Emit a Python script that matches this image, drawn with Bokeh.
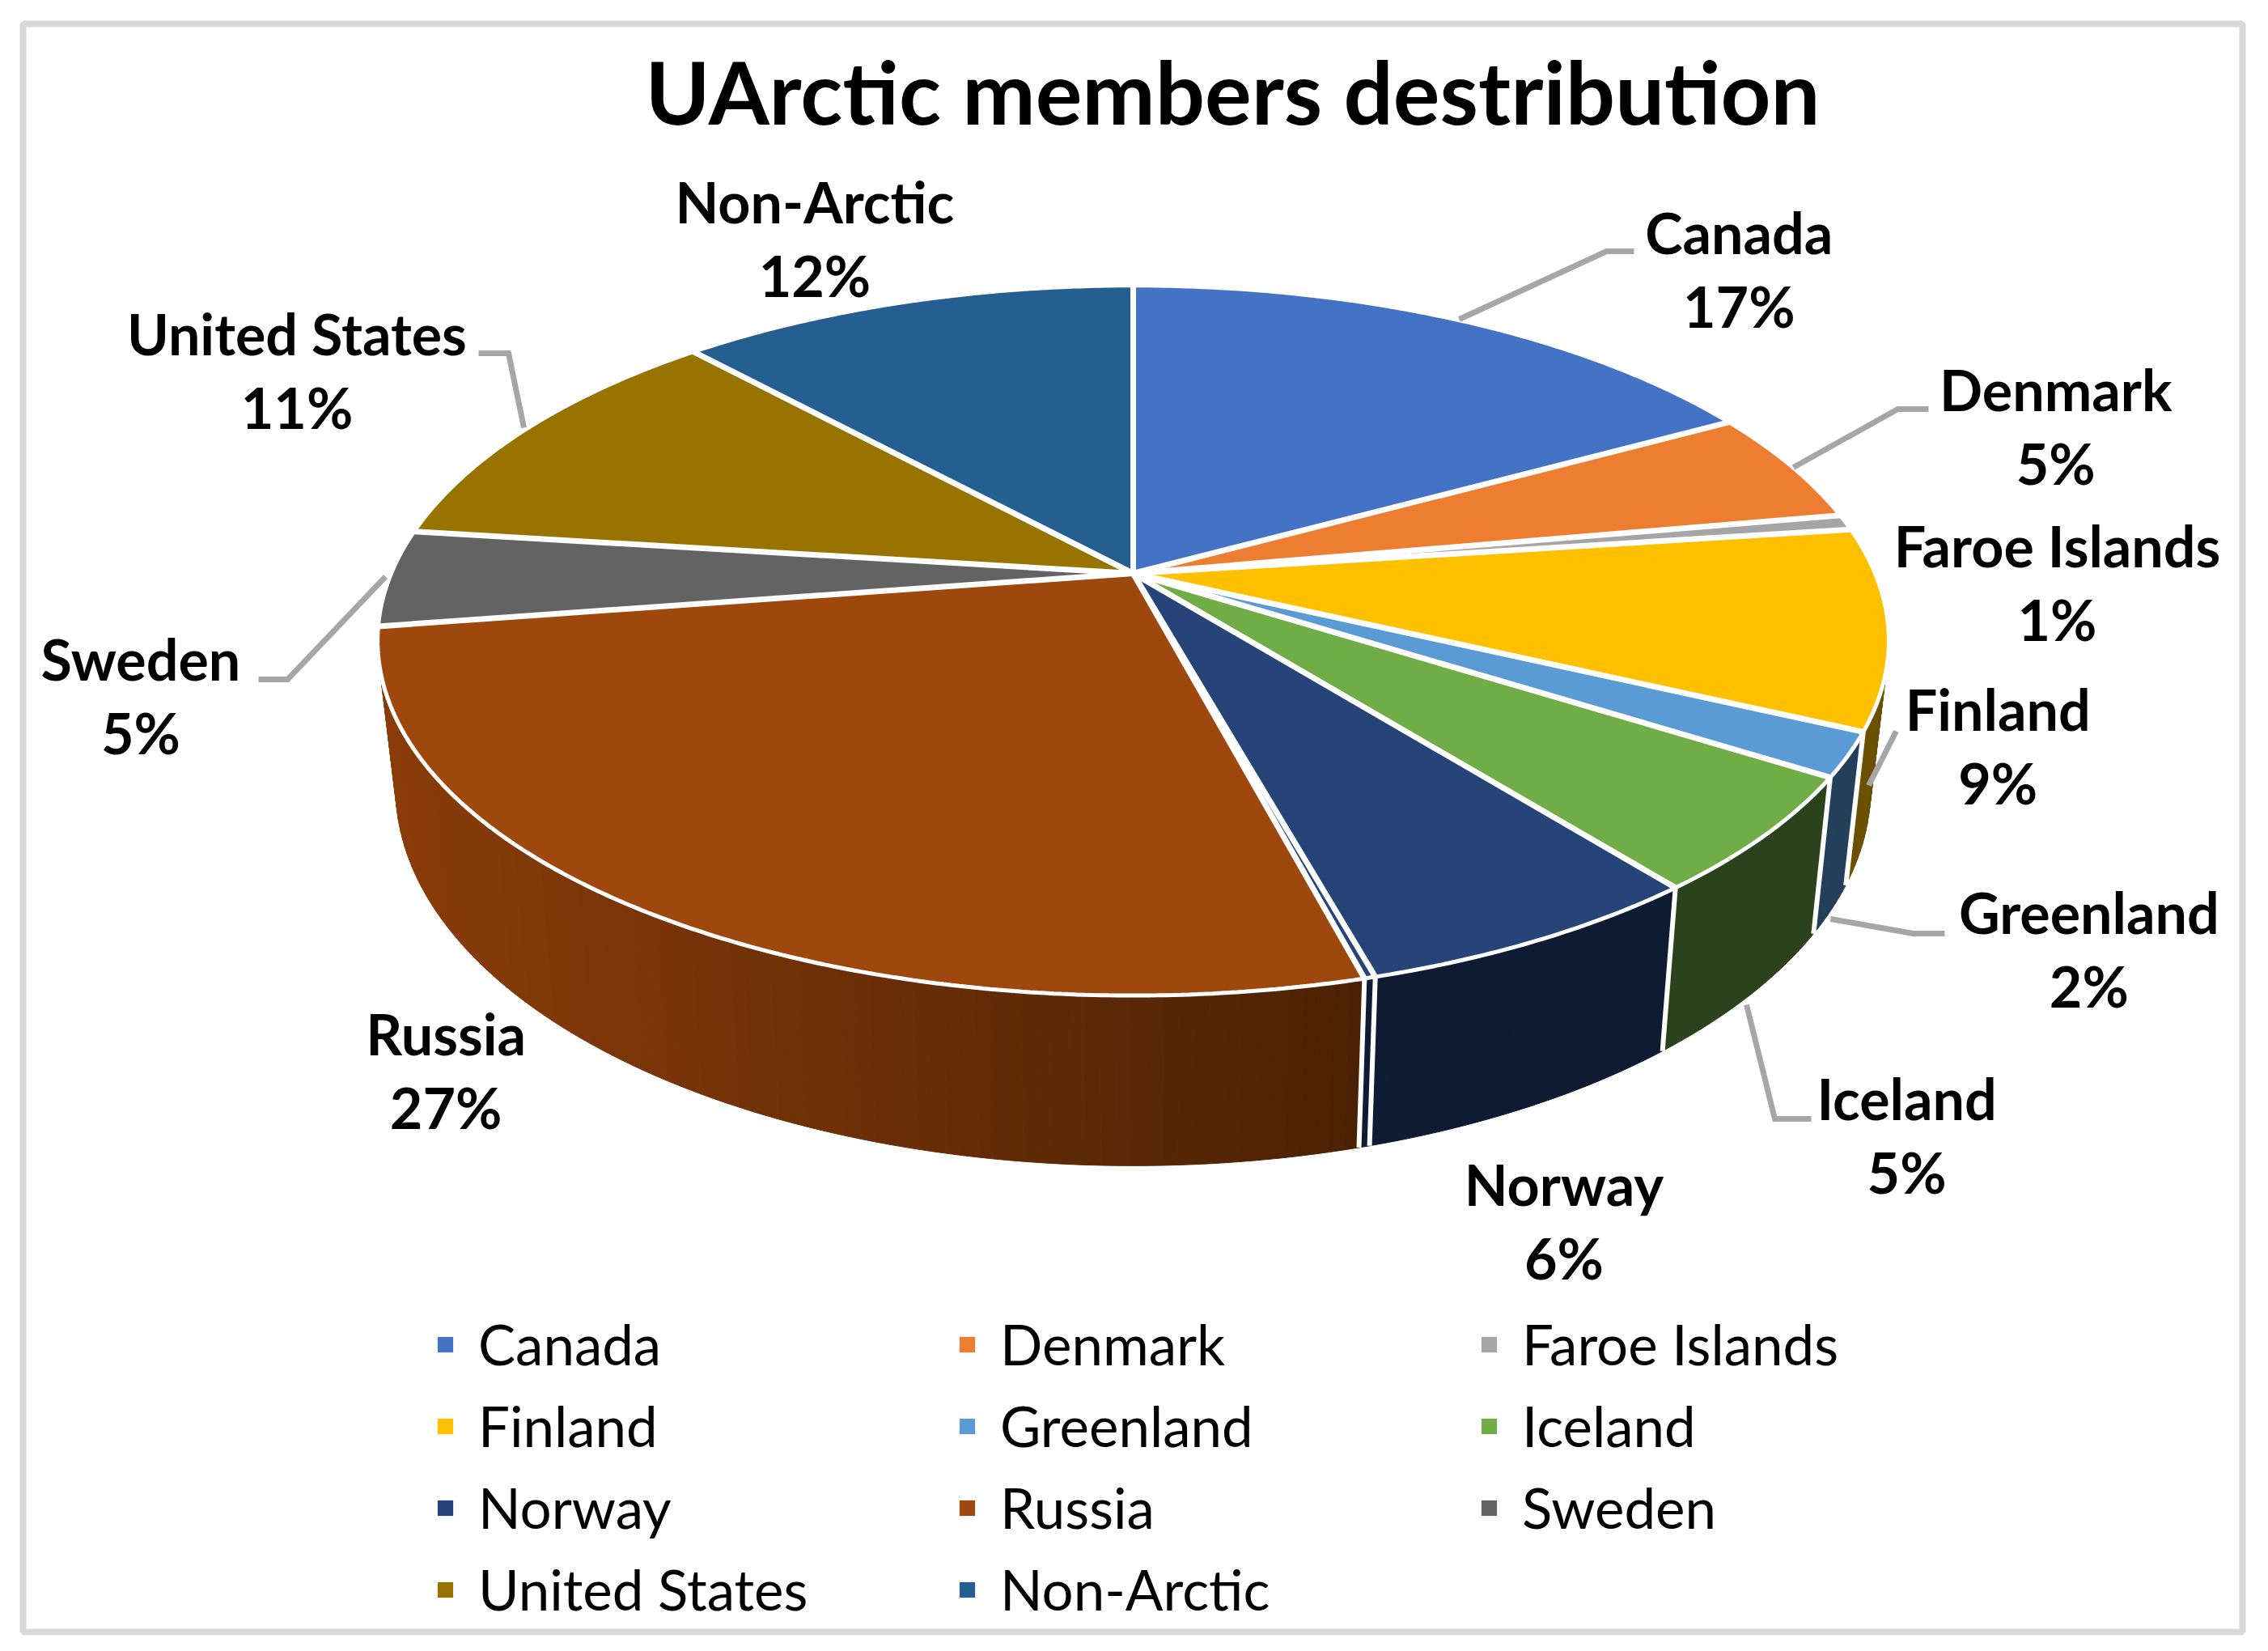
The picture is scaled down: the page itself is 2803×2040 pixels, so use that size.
import numpy as np
from bokeh.embed import file_html
from bokeh.resources import INLINE
from bokeh.plotting import figure
from bokeh.models import Range1d, ColumnDataSource, Legend, LegendItem
from bokeh.core.properties import value

title = "UArctic members destribution"
categories = ["Canada", "Denmark", "Faroe Islands", "Finland", "Greenland", "Iceland",
              "Norway", "Russia", "Sweden", "United States", "Non-Arctic"]
percent_labels = ["17%", "5%", "1%", "9%", "2%", "5%", "6%", "27%", "5%", "11%", "12%"]
# shares as read from the slice boundaries (the printed labels are rounded)
shares = [17.0, 5.2, 0.7, 9.1, 2.0, 5.3, 6.4, 26.7, 4.4, 11.2, 11.8]
unlabelled_sliver_after_norway = 0.2
top_colors = ["#4472C4", "#ED7D31", "#A5A5A5", "#FFC000", "#5B9BD5", "#70AD47",
              "#264478", "#9E480E", "#636363", "#997300", "#255E91"]
side_colors = ["#2E4F8A", "#A85820", "#707070", "#6B5000", "#233F5A", "#2B431C",
               "#0E1B33", None, "#444444", "#665000", "#1A3F60"]
russia_side_left, russia_side_right = (0x8A, 0x3C, 0x09), (0x4A, 0x21, 0x05)
legend_order = ["Canada", "Finland", "Norway", "United States",
                "Denmark", "Greenland", "Russia", "Non-Arctic",
                "Faroe Islands", "Iceland", "Sweden"]

# layout (page pixels)
W, H = 2787, 2024
CX, CY, TOP_A, TOP_B = 1400.0, 708.0, 917.0, 423.0
BOT_CY, BOT_A, BOT_B = 885.0, 895.0, 450.0
K = 0.189
label_pos = {
    "Canada": (1202, 160), "Denmark": (1421, 269), "Faroe Islands": (1422, 377),
    "Finland": (1381, 490), "Greenland": (1444, 630), "Iceland": (1318, 759),
    "Norway": (1081, 818), "Russia": (308, 714), "Sweden": (97, 455),
    "United States": (205, 230), "Non-Arctic": (563, 139),
}
LABEL_SCALE = 2803 / 1568
LINE_GAP = 91
leaders = [
    [(1803, 394), (1985, 310), (2019, 310)],
    [(2216, 577), (2345, 505), (2383, 505)],
    [(2309, 970), (2343, 903)],
    [(2262, 1135), (2364, 1153), (2403, 1153)],
    [(2158, 1241), (2193, 1382), (2238, 1382)],
    [(647, 528), (628, 436), (591, 436)],
    [(476, 712), (355, 839), (319, 839)],
]


def project(theta_deg, cy, a, b):
    t = np.radians(theta_deg)
    X, Y = np.sin(t), np.cos(t)
    w = 1 + K * Y
    return CX + a * X / w, cy - b * Y / w


def top(t):
    return project(t, CY, TOP_A, TOP_B)


def bottom(t):
    return project(t, BOT_CY, BOT_A, BOT_B)


slices = []
pos = 0.0
for i, c in enumerate(categories):
    slices.append((pos, pos + shares[i], top_colors[i], side_colors[i], c))
    pos += shares[i]
    if c == "Norway":
        slices.append((pos, pos + unlabelled_sliver_after_norway, "#264478", "#0E1B33", "sliver"))
        pos += unlabelled_sliver_after_norway

p = figure(width=W, height=H, x_range=Range1d(0, W), y_range=Range1d(H, 0),
           output_backend="svg", toolbar_location=None, min_border=0, outline_line_color=None)
p.axis.visible = False
p.grid.visible = False

# chart frame
p.quad(left=[28], right=[2771], top=[29], bottom=[2016], fill_color=None,
       line_color="#D9D9D9", line_width=8)

# side walls, swept quad by quad so the perspective silhouette stays right
qx, qy, qc = [], [], []
walls = [s for s in slices if s[4] in ("Finland", "Greenland", "Iceland", "Norway", "sliver", "Russia")]
for a0, a1, _, sc, name in walls:
    th0, th1 = a0 * 3.6, a1 * 3.6
    n = max(2, int(np.ceil(th1 - th0)))
    ts = np.linspace(th0, th1, n + 1)
    for t0, t1 in zip(ts[:-1], ts[1:]):
        x0, y0 = top(t0); x1, y1 = top(t1)
        x2, y2 = bottom(t1); x3, y3 = bottom(t0)
        qx.append([x0, x1, x2, x3]); qy.append([y0, y1, y2, y3])
        if name == "Russia":
            f = (0.5 * (x2 + x3) - 489) / (1690 - 489)
            f = min(max(f, 0), 1)
            rgb = [int(round(l + (r - l) * f)) for l, r in zip(russia_side_left, russia_side_right)]
            qc.append("#%02X%02X%02X" % tuple(rgb))
        else:
            qc.append(sc)
p.patches(xs=qx, ys=qy, fill_color=qc, line_color=qc, line_width=1)

# white separators between wall panels
sx, sy = [], []
for a0, a1, _, _, name in walls:
    if name == "Russia":
        continue
    t = a1 * 3.6
    xa, ya = top(t); xb, yb = bottom(t)
    sx.append([xa, xb]); sy.append([ya, yb])
p.multi_line(xs=sx, ys=sy, line_color="white", line_width=6)

# top face
xs, ys, cols = [], [], []
for a0, a1, tc, _, name in slices:
    ts = np.linspace(a0 * 3.6, a1 * 3.6, max(2, int(np.ceil((a1 - a0) * 3.6 * 2)) + 1))
    x, y = top(ts)
    xs.append([CX] + list(x)); ys.append([CY] + list(y)); cols.append(tc)
src = ColumnDataSource(dict(xs=xs, ys=ys, fill=cols))
face = p.patches(xs="xs", ys="ys", fill_color="fill", line_color=None, source=src)

# white rim and spokes
ts = np.linspace(0, 360, 721)
rx, ry = top(ts)
p.line(rx, ry, line_color="white", line_width=5)
spx, spy = [], []
for a0, a1, _, _, name in slices:
    x, y = top(a0 * 3.6)
    spx.append([CX, x]); spy.append([CY, y])
p.multi_line(xs=spx, ys=spy, line_color="white", line_width=7)

# leader lines
p.multi_line(xs=[[q[0] for q in l] for l in leaders], ys=[[q[1] for q in l] for l in leaders],
             line_color="#A6A6A6", line_width=7, line_join="miter")

# data labels
nx = [label_pos[c][0] * LABEL_SCALE for c in categories]
ny = [label_pos[c][1] * LABEL_SCALE for c in categories]
label_font = value("Lato")
p.text(nx, ny, text=categories, text_font=label_font, text_font_style="bold",
       text_font_size="70px", text_align="center", text_baseline="middle", text_color="black")
p.text(nx, [v + LINE_GAP for v in ny], text=percent_labels, text_font=label_font, text_font_style="bold",
       text_font_size="70px", text_align="center", text_baseline="middle", text_color="black")

# title
p.text([1523], [111], text=[title], text_font=label_font, text_font_style="bold",
       text_font_size="108px", text_align="center", text_baseline="middle", text_color="black")

# legend
face_index = {s[4]: i for i, s in enumerate(slices)}
items = [LegendItem(label=c, renderers=[face], index=face_index[c]) for c in legend_order]
legend = Legend(items=items, ncols=3, location=(538, 10), margin=0, padding=0, spacing=0,
                border_line_color=None, background_fill_color=None,
                glyph_width=24, glyph_height=24, label_standoff=29,
                label_width=592, label_height=101,
                label_text_font="Lato", label_text_font_size="69px", label_text_color="black")
p.add_layout(legend, "center")

open("out.html", "w").write(file_html(p, INLINE))
